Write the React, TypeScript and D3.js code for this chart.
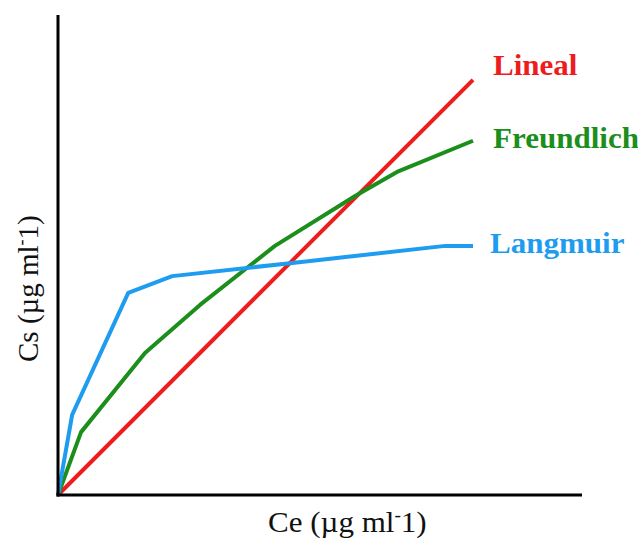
import React from 'react';
import * as d3 from 'd3';

// series (x = Ce, y = Cs, arbitrary units 0..10)
const linealX = [0, 7.92];
const linealY = [0, 8.65];

const freundlichX = [0, 0.44, 1.66, 2.71, 4.14, 5.67, 6.47, 7.92];
const freundlichY = [0, 1.31, 2.96, 3.96, 5.19, 6.23, 6.73, 7.38];

const langmuirX = [0, 0.27, 1.34, 2.18, 4.43, 7.39, 7.92];
const langmuirY = [0, 1.67, 4.21, 4.56, 4.83, 5.19, 5.19];

const seriesNames = ['Lineal', 'Freundlich', 'Langmuir'];
const seriesColors = ['#ee1d1d', '#1b8e1b', '#1e9cf0'];

interface Pt { x: number, y: number }

const zip = (xs: number[], ys: number[]): Pt[] => xs.map((x, i) => ({ x: x, y: ys[i] }));

export default function App() {
    const width = 638, height = 539;
    const margin = { top: 15, right: 56, bottom: 44, left: 58 };

    const x = d3.scaleLinear().domain([0, 10]).range([margin.left, width - margin.right]);
    const y = d3.scaleLinear().domain([0, 10]).range([height - margin.bottom, margin.top]);

    const line = d3.line<Pt>()
        .x(function(d) { return x(d.x); })
        .y(function(d) { return y(d.y); });

    const series = [
        zip(linealX, linealY),
        zip(freundlichX, freundlichY),
        zip(langmuirX, langmuirY)
    ];

    // label offsets from the end of each line
    const labelDx = [20, 20, 17];
    const labelDy = [-5, 7, 7];

    // only a single family name seems to resolve here
    const fontStyle = { fontFamily: "'Liberation Serif'" };

    return (
        <svg width={width} height={height} style={{ position: 'absolute', left: 0, top: 0, background: '#fff' }}>
            {series.map((s, i) => (
                <path key={seriesNames[i]} d={line(s) || ''} fill="none" stroke={seriesColors[i]}
                      strokeWidth={4} strokeLinejoin="round" />
            ))}

            {/* axes */}
            <line x1={x(0)} x2={x(0)} y1={y(10)} y2={y(0) + 1.5} stroke="#000" strokeWidth={3} />
            <line x1={x(0) - 1.5} x2={x(10)} y1={y(0)} y2={y(0)} stroke="#000" strokeWidth={3} />

            {series.map((s, i) => {
                const last = s[s.length - 1];
                return (
                    <text key={'lab' + i}
                          transform={`translate(${x(last.x) + labelDx[i]},${y(last.y) + labelDy[i]}) scale(1.07,1)`}
                          fill={seriesColors[i]} style={fontStyle} fontWeight="bold" fontSize={29}>
                        {seriesNames[i]}
                    </text>
                );
            })}

            <text transform="translate(268,532) scale(1.07,1)" style={fontStyle} fontSize={29} fill="#111">
                Ce (µg ml<tspan fontSize={18} dy={-11}>-</tspan><tspan dy={11}>1)</tspan>
            </text>

            <text transform="translate(38,362) rotate(-90) scale(1.0,1)" style={fontStyle} fontSize={29} fill="#111">
                Cs (µg ml<tspan fontSize={18} dy={-11}>-</tspan><tspan dy={11}>1)</tspan>
            </text>
        </svg>
    );
}
